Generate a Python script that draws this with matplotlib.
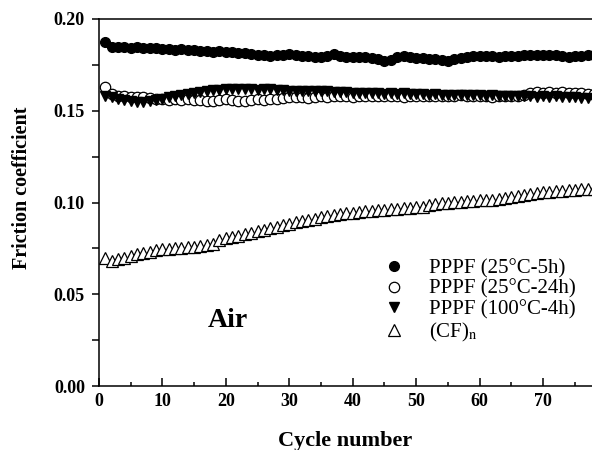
import matplotlib
matplotlib.use("Agg")
import matplotlib.pyplot as plt
from matplotlib.ticker import MultipleLocator
import numpy as np

plt.rcParams["font.family"] = ["Liberation Serif", "DejaVu Serif"]
plt.rcParams["mathtext.fontset"] = "stix"

cycles = np.arange(1, 79)

# PPPF (25°C-5h)
mu_25c_5h = [
    0.1875,
    0.1848, 0.1845, 0.1846, 0.1843, 0.1845, 0.1842, 0.1840, 0.1843, 0.1838,
    0.1836, 0.1833, 0.1835, 0.1830, 0.1828, 0.1825, 0.1826, 0.1822, 0.1823, 0.1820,
    0.1818, 0.1815, 0.1812, 0.1810, 0.1806, 0.1803, 0.1800, 0.1802, 0.1805, 0.1810,
    0.1806, 0.1800, 0.1796, 0.1793, 0.1795, 0.1800, 0.1808, 0.1800, 0.1795, 0.1793,
    0.1792, 0.1790, 0.1785, 0.1780, 0.1772, 0.1778, 0.1790, 0.1798, 0.1792, 0.1788,
    0.1786, 0.1784, 0.1782, 0.1778, 0.1772, 0.1780, 0.1788, 0.1792, 0.1796, 0.1798,
    0.1797, 0.1796, 0.1795, 0.1797, 0.1798, 0.1800, 0.1802, 0.1805, 0.1806, 0.1804,
    0.1803, 0.1802, 0.1796, 0.1793, 0.1797, 0.1800, 0.1803, 0.1805,
]

# PPPF (25°C-24h)
mu_25c_24h = [
    0.1630,
    0.1590, 0.1582, 0.1578, 0.1576, 0.1575, 0.1573, 0.1570, 0.1566, 0.1562,
    0.1560, 0.1562, 0.1560, 0.1562, 0.1560, 0.1556, 0.1552, 0.1555, 0.1558, 0.1562,
    0.1557, 0.1552, 0.1555, 0.1560, 0.1562, 0.1560, 0.1563, 0.1565, 0.1568, 0.1572,
    0.1575, 0.1572, 0.1570, 0.1575, 0.1578, 0.1576, 0.1580, 0.1578, 0.1580, 0.1577,
    0.1578, 0.1582, 0.1580, 0.1578, 0.1580, 0.1582, 0.1579, 0.1577, 0.1580, 0.1578,
    0.1580, 0.1578, 0.1582, 0.1580, 0.1578, 0.1581, 0.1583, 0.1580, 0.1578, 0.1580,
    0.1578, 0.1575, 0.1578, 0.1580, 0.1578, 0.1582, 0.1585, 0.1595, 0.1600, 0.1598,
    0.1602, 0.1598, 0.1600, 0.1596, 0.1594, 0.1597, 0.1593, 0.1590,
]

# PPPF (100°C-4h)
mu_100c_4h = [
    0.1582,
    0.1572, 0.1565, 0.1558, 0.1552, 0.1548, 0.1550, 0.1553, 0.1558, 0.1565,
    0.1572, 0.1578, 0.1585, 0.1592, 0.1598, 0.1603, 0.1608, 0.1612, 0.1615, 0.1617,
    0.1618, 0.1616, 0.1618, 0.1617, 0.1615, 0.1618, 0.1616, 0.1614, 0.1612, 0.1610,
    0.1608, 0.1610, 0.1607, 0.1605, 0.1608, 0.1605, 0.1603, 0.1600, 0.1602, 0.1598,
    0.1597, 0.1598, 0.1595, 0.1597, 0.1593, 0.1595, 0.1592, 0.1594, 0.1590, 0.1592,
    0.1590, 0.1588, 0.1590, 0.1587, 0.1585, 0.1588, 0.1586, 0.1584, 0.1586, 0.1583,
    0.1582, 0.1584, 0.1581, 0.1580, 0.1582, 0.1579, 0.1578, 0.1580, 0.1577, 0.1578,
    0.1576, 0.1578, 0.1575, 0.1576, 0.1573, 0.1570, 0.1567, 0.1565,
]

# (CF)n
mu_cf = [
    0.0700, 0.0680, 0.0690, 0.0700, 0.0710, 0.0718, 0.0725, 0.0733, 0.0740, 0.0745,
    0.0748, 0.0750, 0.0752, 0.0755, 0.0760, 0.0765, 0.0770, 0.0775, 0.0795, 0.0805,
    0.0812, 0.0820, 0.0828, 0.0836, 0.0845, 0.0852, 0.0860, 0.0868, 0.0876, 0.0884,
    0.0892, 0.0898, 0.0905, 0.0912, 0.0920, 0.0926, 0.0932, 0.0937, 0.0941, 0.0945,
    0.0948, 0.0951, 0.0954, 0.0957, 0.0960, 0.0962, 0.0965, 0.0968, 0.0970, 0.0973,
    0.0978, 0.0984, 0.0990, 0.0996, 0.1000, 0.1003, 0.1005, 0.1007, 0.1009, 0.1011,
    0.1013, 0.1016, 0.1019, 0.1023, 0.1030, 0.1038, 0.1043, 0.1047, 0.1051, 0.1055,
    0.1058, 0.1061, 0.1064, 0.1067, 0.1070, 0.1072, 0.1074, 0.1076,
]

labels = ["PPPF (25°C-5h)", "PPPF (25°C-24h)", "PPPF (100°C-4h)", "(CF)$_{\\rm n}$"]

fig = plt.figure(figsize=(5.92, 4.5), dpi=100)
ax = fig.add_axes([0.167, 0.142, 0.833, 0.816])

ax.plot(cycles, mu_25c_5h, "o", color="black", ms=7, label=labels[0])
ax.plot(cycles, mu_25c_24h, "o", mfc="white", mec="black", mew=0.9, ms=7.5, label=labels[1])
ax.plot(cycles, mu_100c_4h, "v", color="black", ms=7.5, label=labels[2])
ax.plot(cycles, mu_cf, "^", mfc="white", mec="black", mew=0.9, ms=8, label=labels[3])

ax.set_xlim(0, 77.7)
ax.set_ylim(0, 0.20)
ax.xaxis.set_major_locator(MultipleLocator(10))
ax.xaxis.set_minor_locator(MultipleLocator(5))
ax.yaxis.set_major_locator(MultipleLocator(0.05))
ax.yaxis.set_minor_locator(MultipleLocator(0.025))
ax.yaxis.set_major_formatter(plt.FormatStrFormatter("%.2f"))

ax.spines["right"].set_visible(False)
for s in ("left", "bottom", "top"):
    ax.spines[s].set_linewidth(1.1)
ax.tick_params(axis="x", which="both", direction="in", top=False, width=1.1)
ax.tick_params(axis="x", which="major", length=6)
ax.tick_params(axis="x", which="minor", length=3)
ax.tick_params(axis="y", which="both", direction="out", right=False, width=1.1, length=5)
ax.tick_params(axis="both", which="major", labelsize=13, pad=5)
for lab in ax.get_xticklabels() + ax.get_yticklabels():
    lab.set_fontweight("bold")

ax.set_xlabel("Cycle number", fontsize=16, fontweight="bold", labelpad=15)
ax.set_ylabel("Friction coefficient", fontsize=14.5, fontweight="bold")
ax.yaxis.set_label_coords(-0.136, 0.54)

ax.text(0.221, 0.16, "Air", transform=ax.transAxes, fontsize=20, fontweight="bold")

ax.legend(loc="upper left", bbox_to_anchor=(0.648, 0.425), bbox_transform=fig.transFigure,
          frameon=False, fontsize=15, handlelength=1.0, handletextpad=1.2,
          labelspacing=0.05, borderpad=0, borderaxespad=0)

fig.savefig("out.png", dpi=100)
